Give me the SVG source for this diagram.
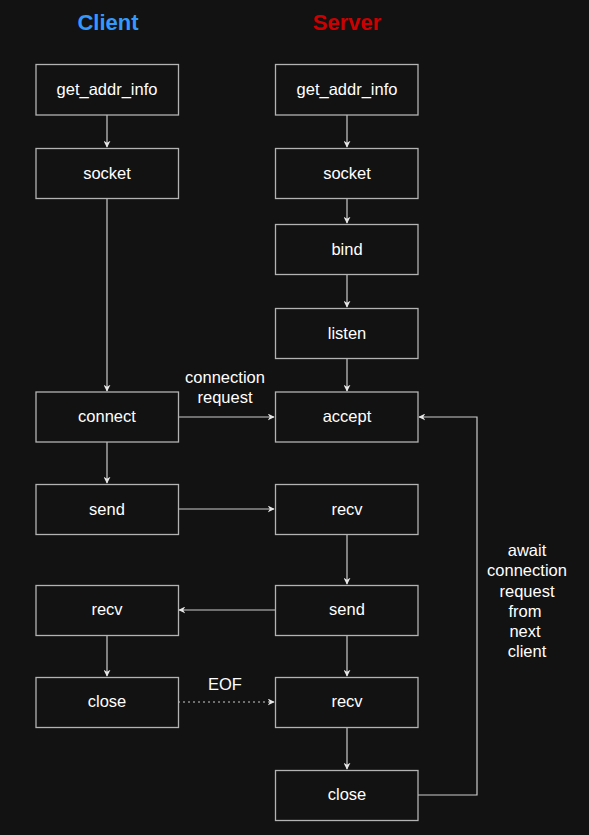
<svg xmlns="http://www.w3.org/2000/svg" width="589" height="835" viewBox="0 0 589 835">
<style>
.bg{fill:#121212}
.box{fill:#121212;stroke:#b3b3b3;stroke-width:1.3}
.t{font-family:"Liberation Sans",Arial,sans-serif;font-size:16.5px;fill:#ffffff;text-anchor:middle;dominant-baseline:central}
.h{font-family:"Liberation Sans",Arial,sans-serif;font-size:22px;font-weight:bold;text-anchor:middle}
.c{fill:none;stroke:#cccccc;stroke-width:1.2}
.d{stroke-dasharray:2 3}
</style>
<defs>
<marker id="a" viewBox="0 0 10 10" refX="9" refY="5" markerWidth="7" markerHeight="7" markerUnits="userSpaceOnUse" orient="auto">
<path d="M0,0 L10,5 L0,10 L3,5 Z" fill="#e6e6e6"/>
</marker>
</defs>
<rect class="bg" x="0" y="0" width="589" height="835"/>
<text class="h" x="108" y="30" fill="#3399ff">Client</text>
<text class="h" x="347" y="30" fill="#cc0000">Server</text>

<g id="connectors">
<path class="c" d="M107,115 V147" marker-end="url(#a)"/>
<path class="c" d="M107,198 V391" marker-end="url(#a)"/>
<path class="c" d="M107,442 V483" marker-end="url(#a)"/>
<path class="c" d="M107,635 V676" marker-end="url(#a)"/>
<path class="c" d="M347,115 V147" marker-end="url(#a)"/>
<path class="c" d="M347,198 V223" marker-end="url(#a)"/>
<path class="c" d="M347,274 V307" marker-end="url(#a)"/>
<path class="c" d="M347,358 V391" marker-end="url(#a)"/>
<path class="c" d="M347,534 V584" marker-end="url(#a)"/>
<path class="c" d="M347,635 V676" marker-end="url(#a)"/>
<path class="c" d="M347,727 V769" marker-end="url(#a)"/>
<path class="c" d="M178,417 H274" marker-end="url(#a)"/>
<path class="c" d="M178,509 H274" marker-end="url(#a)"/>
<path class="c" d="M275,610 H179" marker-end="url(#a)"/>
<path class="c d" d="M178,702 H274" marker-end="url(#a)"/>
<path class="c" d="M418,795 H477 V417 H419" marker-end="url(#a)"/>
<text class="t" x="225" y="377">connection</text>
<text class="t" x="225" y="397">request</text>
<text class="t" x="225" y="684">EOF</text>
<text class="t" x="527" y="550">await</text>
<text class="t" x="527" y="570">connection</text>
<text class="t" x="527" y="591">request</text>
<text class="t" x="525" y="611">from</text>
<text class="t" x="525" y="631">next</text>
<text class="t" x="527" y="651">client</text>
</g>

<g id="c_getaddr"><rect class="box" x="36" y="64.5" width="142.5" height="50.5"/><text class="t" x="107" y="89">get_addr_info</text></g>
<g id="c_socket"><rect class="box" x="36" y="148.5" width="142.5" height="50"/><text class="t" x="107" y="173">socket</text></g>
<g id="c_connect"><rect class="box" x="36" y="392" width="142.5" height="50"/><text class="t" x="107" y="416">connect</text></g>
<g id="c_send"><rect class="box" x="36" y="484.5" width="142.5" height="50"/><text class="t" x="107" y="509">send</text></g>
<g id="c_recv"><rect class="box" x="36" y="585.5" width="142.5" height="50"/><text class="t" x="107" y="609">recv</text></g>
<g id="c_close"><rect class="box" x="36" y="677.5" width="142.5" height="50"/><text class="t" x="107" y="701">close</text></g>

<g id="s_getaddr"><rect class="box" x="275.5" y="64.5" width="142.5" height="50.5"/><text class="t" x="347" y="89">get_addr_info</text></g>
<g id="s_socket"><rect class="box" x="275.5" y="148.5" width="142.5" height="50"/><text class="t" x="347" y="173">socket</text></g>
<g id="s_bind"><rect class="box" x="275.5" y="224.5" width="142.5" height="50"/><text class="t" x="347" y="249">bind</text></g>
<g id="s_listen"><rect class="box" x="275.5" y="308.5" width="142.5" height="50"/><text class="t" x="347" y="333">listen</text></g>
<g id="s_accept"><rect class="box" x="275.5" y="392" width="142.5" height="50"/><text class="t" x="347" y="416">accept</text></g>
<g id="s_recv1"><rect class="box" x="275.5" y="484.5" width="142.5" height="50"/><text class="t" x="347" y="509">recv</text></g>
<g id="s_send"><rect class="box" x="275.5" y="585.5" width="142.5" height="50"/><text class="t" x="347" y="609">send</text></g>
<g id="s_recv2"><rect class="box" x="275.5" y="677.5" width="142.5" height="50"/><text class="t" x="347" y="701">recv</text></g>
<g id="s_close"><rect class="box" x="275.5" y="770.5" width="142.5" height="50"/><text class="t" x="347" y="794">close</text></g>
</svg>
